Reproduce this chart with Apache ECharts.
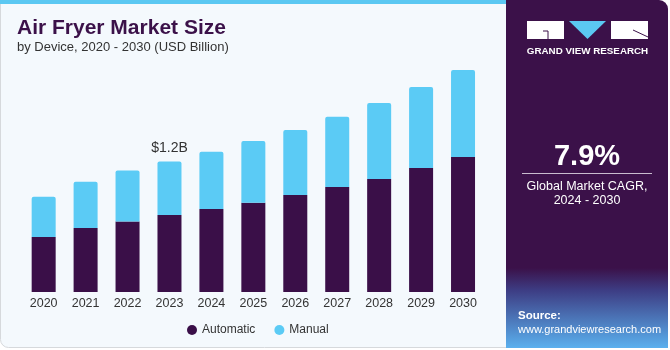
<!DOCTYPE html>
<html>
<head>
<meta charset="utf-8">
<script src="https://cdn.jsdelivr.net/npm/echarts@6/dist/echarts.min.js"></script>
<style>
html,body{margin:0;padding:0;background:#ffffff;}
#chart{width:670px;height:350px;}
</style>
</head>
<body>
<div id="chart"></div>
<script>
const categories = ['2020','2021','2022','2023','2024','2025','2026','2027','2028','2029','2030'];
const automatic = [0.505,0.588,0.649,0.707,0.762,0.820,0.891,0.964,1.038,1.139,1.240];
const manual = [0.370,0.425,0.468,0.493,0.526,0.567,0.599,0.646,0.698,0.746,0.801];
const annotatedIndex = 3;
const annotationText = '$1.2B';
const cagrValue = '7.9%';
const cagrLabel = ['Global Market CAGR,', '2024 - 2030'];

const FONT = '"Liberation Sans", Arial, sans-serif';
const PURPLE = '#3a0f48';
const BLUE = '#5bcbf5';

const chart = echarts.init(document.getElementById('chart'), null, {renderer:'canvas'});

const manualData = manual.map((v,i) => i === annotatedIndex ? {
  value: v,
  label: {show:true, position:'top', distance:6, formatter: annotationText,
          color:'#333', fontSize:14, fontFamily: FONT}
} : v);

const option = {
  backgroundColor: '#ffffff',
  animation: false,
  graphic: [
    {type:'rect', z:-10, shape:{x:0.5, y:0.5, width:520, height:347, r:[0,0,0,8]},
     style:{fill:'#f4f9fd', stroke:'#d6d9dc', lineWidth:1}},
    {type:'rect', z:-9, shape:{x:0, y:0, width:506, height:4}, style:{fill:'#5bc8f2'}},
    {type:'rect', z:-8, shape:{x:506, y:0, width:162, height:348, r:[0,9,0,0]}, style:{fill:'#3b1149'}},
    {type:'rect', z:-7, shape:{x:506, y:268, width:162, height:80},
     style:{fill:new echarts.graphic.LinearGradient(0,0,0,1,[
       {offset:0, color:'#3b1149'},{offset:0.28, color:'#3d3d84'},{offset:1, color:'#5ab0ee'}])}},
    {type:'text', left:17, top:18, style:{text:'Air Fryer Market Size', fill:'#3b1149',
      font:'bold 21px ' + FONT}},
    {type:'text', left:17, top:41, style:{text:'by Device, 2020 - 2030 (USD Billion)', fill:'#333333',
      font:'13px ' + FONT}},
    {type:'rect', shape:{x:527, y:21, width:37, height:18}, style:{fill:'#ffffff'}},
    {type:'polyline', shape:{points:[[543,31],[548,31],[548,39]]}, style:{stroke:'#3b1149', lineWidth:1, fill:null}},
    {type:'polygon', shape:{points:[[569,21],[606,21],[587.5,39]]}, style:{fill:'#5bc8f2'}},
    {type:'rect', shape:{x:611, y:21, width:37, height:18}, style:{fill:'#ffffff'}},
    {type:'line', shape:{x1:633, y1:30, x2:648, y2:37}, style:{stroke:'#3b1149', lineWidth:1}},
    {type:'text', x:587.5, y:51, style:{text:'GRAND VIEW RESEARCH', fill:'#ffffff',
      font:'bold 9.8px ' + FONT, align:'center', verticalAlign:'middle'}},
    {type:'text', x:587, y:157, style:{text:cagrValue, fill:'#ffffff', font:'bold 29px ' + FONT,
      align:'center', verticalAlign:'middle'}},
    {type:'line', shape:{x1:522, y1:173.5, x2:652, y2:173.5}, style:{stroke:'#c9bccf', lineWidth:1}},
    {type:'text', x:587, y:187, style:{text:cagrLabel[0], fill:'#ffffff', font:'12.5px ' + FONT,
      align:'center', verticalAlign:'middle'}},
    {type:'text', x:587, y:201, style:{text:cagrLabel[1], fill:'#ffffff', font:'12.5px ' + FONT,
      align:'center', verticalAlign:'middle'}},
    {type:'text', x:518, y:316, style:{text:'Source:', fill:'#ffffff', font:'bold 11.5px ' + FONT,
      verticalAlign:'middle'}},
    {type:'text', x:518, y:329.5, style:{text:'www.grandviewresearch.com', fill:'#ffffff', font:'11px ' + FONT,
      verticalAlign:'middle'}}
  ],
  legend: {
    left: 182, top: 319, itemWidth: 10, itemHeight: 10, itemGap: 19,
    icon: 'circle',
    textStyle: {color:'#333', fontSize:12, fontFamily: FONT},
    data: ['Automatic','Manual']
  },
  grid: {left: 22.7, right: 186, top: 20, bottom: 58},
  xAxis: {
    type:'category', data: categories,
    axisLine:{show:false}, axisTick:{show:false},
    axisLabel:{color:'#333', fontSize:12.5, fontFamily: FONT, margin:5}
  },
  yAxis: {type:'value', min:0, max:2.5, show:false, splitLine:{show:false}},
  series: [
    {name:'Automatic', type:'bar', stack:'total', data: automatic, barWidth:24,
     itemStyle:{color:PURPLE}},
    {name:'Manual', type:'bar', stack:'total', data: manualData, barWidth:24,
     itemStyle:{color:BLUE, borderRadius:[2,2,0,0]}}
  ]
};
chart.setOption(option);
</script>
</body>
</html>
